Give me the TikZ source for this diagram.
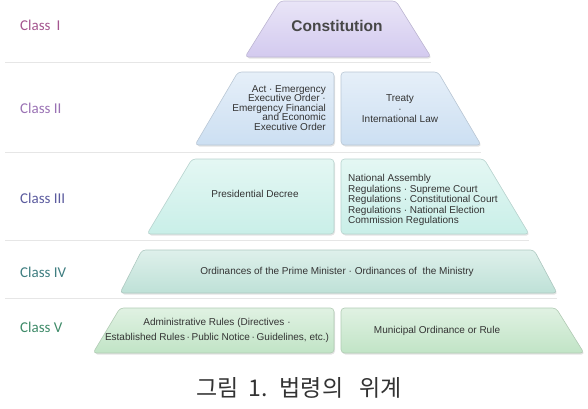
\documentclass[tikz,border=0pt]{standalone}
\usepackage{fontspec}
\setmainfont{Liberation Sans}
\newfontfamily\classfont{Carlito}
\newfontfamily\cjk{Noto Sans CJK KR}
\usetikzlibrary{shadows}

\definecolor{tierA}{HTML}{D3CAEF}
\definecolor{tierB}{HTML}{CCDFF2}
\definecolor{tierC}{HTML}{C9EFE8}
\definecolor{tierD}{HTML}{BEE1D7}
\definecolor{tierE}{HTML}{C1E4C6}
\definecolor{clsA}{HTML}{A4558F}
\definecolor{clsB}{HTML}{9A72B4}
\definecolor{clsC}{HTML}{5B5B9E}
\definecolor{clsD}{HTML}{3E7D80}
\definecolor{clsE}{HTML}{3E8A68}
\definecolor{lawtext}{HTML}{333333}
\definecolor{sepgray}{HTML}{E6E6E6}

\tikzset{
  tier/.style={rounded corners=3.5pt, draw=#1!75!gray, line width=0.6pt,
    top color=#1!50!white, bottom color=#1,
    drop shadow={opacity=0.22, shadow xshift=1pt, shadow yshift=-1.5pt}},
  sepline/.style={draw=sepgray, line width=0.8pt},
  classlbl/.style={anchor=west, inner sep=0pt, font=\classfont\fontsize{15}{15}\selectfont},
  boxtxt/.style={inner sep=0pt, text=lawtext, align=center, font=\fontsize{10}{9.5}\selectfont}
}

\begin{document}
\begin{tikzpicture}[x=1pt, y=-1pt]
      \useasboundingbox (0,0) rectangle (588,408);

      % Separators between the classes
      \draw[sepline] (5,62) -- (431,62);
      \draw[sepline] (5,152) -- (481,152);
      \draw[sepline] (5,240) -- (529,240);
      \draw[sepline] (5,298) -- (557,298);

      % Class I
      \draw[tier=tierA] (280,1) -- (396,1) -- (431,57) -- (245,57) -- cycle;

      % Class II
      \draw[tier=tierB] (238,72) -- (334,72) -- (334,145) -- (195,145) -- cycle;
      \draw[tier=tierB] (341,72) -- (438,72) -- (481,145) -- (341,145) -- cycle;

      % Class III
      \draw[tier=tierC] (192,159) -- (334,159) -- (334,234) -- (147,234) -- cycle;
      \draw[tier=tierC] (341,159) -- (484,159) -- (529,234) -- (341,234) -- cycle;

      % Class IV
      \draw[tier=tierD] (142,250) -- (534,250) -- (557,293) -- (120,293) -- cycle;

      % Class V
      \draw[tier=tierE] (120,308) -- (334,308) -- (334,353) -- (93,353) -- cycle;
      \draw[tier=tierE] (341,308) -- (556,308) -- (584,353) -- (341,353) -- cycle;

      % Class labels
      \node[classlbl, text=clsA] (clsI) at (20,25) {Class\hspace{6pt}I};
      \node[classlbl, text=clsB] (clsII) at (20,108) {Class II};
      \node[classlbl, text=clsC] (clsIII) at (20,198) {Class III};
      \node[classlbl, text=clsD] (clsIV) at (20,272) {Class IV};
      \node[classlbl, text=clsE] (clsV) at (20,327) {Class V};

      % Texts in the pyramid
      \node[inner sep=0pt, text=black!72, font=\bfseries\fontsize{15.5}{15.5}\selectfont] (const) at (337,26) {Constitution};
      \node[boxtxt, align=right, anchor=east] (act) at (326,108) {Act · Emergency\\Executive Order ·\\Emergency Financial\\and Economic\\Executive Order};
      \node[boxtxt] (treaty) at (400,109) {Treaty\\[1pt]·\\[1pt]International Law};
      \node[boxtxt] (decree) at (255,194) {Presidential Decree};
      \node[boxtxt, align=left, anchor=west, font=\fontsize{10}{10.5}\selectfont] (assembly) at (348,200) {National Assembly\\Regulations · Supreme Court\\Regulations · Constitutional Court\\Regulations · National Election\\Commission Regulations};
      \node[boxtxt] (ordin) at (337,272) {Ordinances of the Prime Minister · Ordinances of\ \ the Ministry};
      \node[boxtxt, font=\fontsize{10}{15}\selectfont] (admin) at (217,330) {Administrative Rules (Directives ·\\Established Rules\,·\,Public Notice\,·\,Guidelines, etc.)};
      \node[boxtxt] (munic) at (437,331) {Municipal Ordinance or Rule};

      % Caption
      \node[inner sep=0pt, text=black!80, font=\cjk\fontsize{23}{23}\selectfont] (caption) at (299,388) {그림\hspace{10pt}1.\hspace{12pt}법령의\hspace{16pt}위계};
    \end{tikzpicture}
\end{document}
